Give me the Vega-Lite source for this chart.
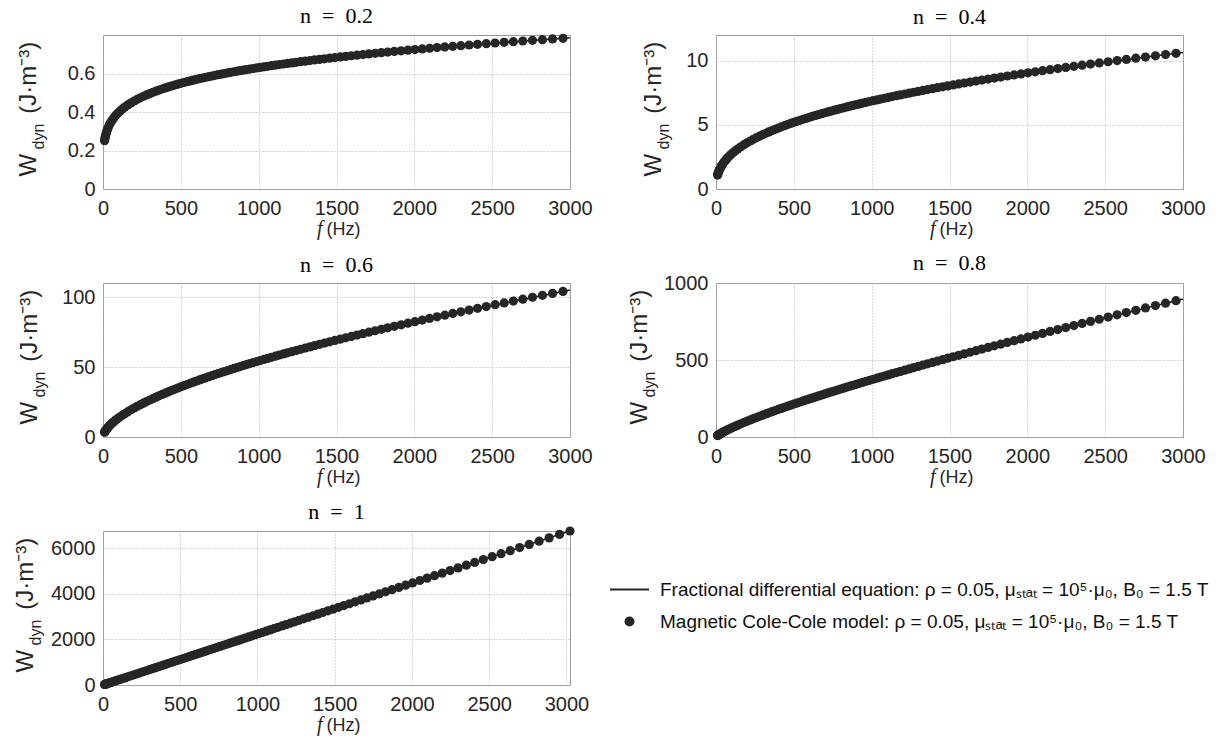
{
"$schema":"https://vega.github.io/schema/vega-lite/v6.json",
"background":"white",
"padding":{"left":12,"top":4,"right":5,"bottom":5},
"bounds":"flush",
"columns":2,
"spacing":{"row":94,"column":146},
"resolve":{"scale":{"shape":"independent"},"legend":{"shape":"independent"}},
"datasets":{
"c":[
{"n":0.2,"f":10,"W":0.251},{"n":0.2,"f":20,"W":0.2883},{"n":0.2,"f":39,"W":0.3295},{"n":0.2,"f":84,"W":0.3842},{"n":0.2,"f":160,"W":0.437},{"n":0.2,"f":300,"W":0.4955},{"n":0.2,"f":500,"W":0.5488},{"n":0.2,"f":800,"W":0.6029},{"n":0.2,"f":1213,"W":0.6552},{"n":0.2,"f":1708,"W":0.7017},{"n":0.2,"f":2299,"W":0.7446},{"n":0.2,"f":2955,"W":0.783},{"n":0.2,"f":3000,"W":0.7854},
{"n":0.4,"f":10,"W":1.086},{"n":0.4,"f":20,"W":1.4331},{"n":0.4,"f":39,"W":1.8718},{"n":0.4,"f":84,"W":2.5443},{"n":0.4,"f":160,"W":3.2923},{"n":0.4,"f":300,"W":4.2335},{"n":0.4,"f":500,"W":5.1932},{"n":0.4,"f":800,"W":6.2674},{"n":0.4,"f":1213,"W":7.4021},{"n":0.4,"f":1708,"W":8.4891},{"n":0.4,"f":2299,"W":9.5595},{"n":0.4,"f":2955,"W":10.57},{"n":0.4,"f":3000,"W":10.634},
{"n":0.6,"f":10,"W":3.425},{"n":0.6,"f":20,"W":5.192},{"n":0.6,"f":39,"W":7.75},{"n":0.6,"f":84,"W":12.282},{"n":0.6,"f":160,"W":18.079},{"n":0.6,"f":300,"W":26.362},{"n":0.6,"f":500,"W":35.816},{"n":0.6,"f":800,"W":47.485},{"n":0.6,"f":1213,"W":60.947},{"n":0.6,"f":1708,"W":74.854},{"n":0.6,"f":2299,"W":89.449},{"n":0.6,"f":2955,"W":104.0},{"n":0.6,"f":3000,"W":104.95},
{"n":0.8,"f":10,"W":9.343},{"n":0.8,"f":20,"W":16.27},{"n":0.8,"f":39,"W":27.75},{"n":0.8,"f":84,"W":51.28},{"n":0.8,"f":160,"W":85.86},{"n":0.8,"f":300,"W":141.97},{"n":0.8,"f":500,"W":213.63},{"n":0.8,"f":800,"W":311.15},{"n":0.8,"f":1213,"W":434.02},{"n":0.8,"f":1708,"W":570.85},{"n":0.8,"f":2299,"W":723.88},{"n":0.8,"f":2955,"W":885.0},{"n":0.8,"f":3000,"W":895.8},
{"n":1,"f":10,"W":22.35},{"n":1,"f":1000,"W":2235},{"n":1,"f":2000,"W":4470},{"n":1,"f":3023,"W":6756.4}
],
"m":[
{"n":0.2,"f":10,"W":0.251},{"n":0.2,"f":12,"W":0.2603},{"n":0.2,"f":14,"W":0.2685},{"n":0.2,"f":17,"W":0.2791},{"n":0.2,"f":20,"W":0.2883},{"n":0.2,"f":24,"W":0.299},{"n":0.2,"f":28,"W":0.3084},{"n":0.2,"f":33,"W":0.3187},{"n":0.2,"f":39,"W":0.3295},{"n":0.2,"f":46,"W":0.3406},{"n":0.2,"f":54,"W":0.3517},{"n":0.2,"f":63,"W":0.3627},{"n":0.2,"f":73,"W":0.3735},{"n":0.2,"f":84,"W":0.3842},{"n":0.2,"f":96,"W":0.3946},{"n":0.2,"f":110,"W":0.4054},{"n":0.2,"f":125,"W":0.4159},{"n":0.2,"f":140,"W":0.4255},{"n":0.2,"f":160,"W":0.437},{"n":0.2,"f":180,"W":0.4474},{"n":0.2,"f":200,"W":0.4569},{"n":0.2,"f":220,"W":0.4657},{"n":0.2,"f":240,"W":0.4739},{"n":0.2,"f":260,"W":0.4816},{"n":0.2,"f":280,"W":0.4887},{"n":0.2,"f":300,"W":0.4955},{"n":0.2,"f":320,"W":0.502},{"n":0.2,"f":340,"W":0.5081},{"n":0.2,"f":360,"W":0.5139},{"n":0.2,"f":380,"W":0.5195},{"n":0.2,"f":400,"W":0.5249},{"n":0.2,"f":420,"W":0.53},{"n":0.2,"f":440,"W":0.535},{"n":0.2,"f":460,"W":0.5398},{"n":0.2,"f":480,"W":0.5444},{"n":0.2,"f":500,"W":0.5488},{"n":0.2,"f":520,"W":0.5532},{"n":0.2,"f":540,"W":0.5573},{"n":0.2,"f":560,"W":0.5614},{"n":0.2,"f":580,"W":0.5654},{"n":0.2,"f":600,"W":0.5692},{"n":0.2,"f":620,"W":0.573},{"n":0.2,"f":640,"W":0.5766},{"n":0.2,"f":660,"W":0.5802},{"n":0.2,"f":680,"W":0.5836},{"n":0.2,"f":700,"W":0.587},{"n":0.2,"f":720,"W":0.5904},{"n":0.2,"f":740,"W":0.5936},{"n":0.2,"f":760,"W":0.5968},{"n":0.2,"f":780,"W":0.5999},{"n":0.2,"f":800,"W":0.6029},{"n":0.2,"f":820,"W":0.6059},
{"n":0.2,"f":841,"W":0.6091},{"n":0.2,"f":861,"W":0.6119},{"n":0.2,"f":881,"W":0.6147},{"n":0.2,"f":901,"W":0.6175},{"n":0.2,"f":922,"W":0.6203},{"n":0.2,"f":943,"W":0.6231},{"n":0.2,"f":965,"W":0.626},{"n":0.2,"f":987,"W":0.6289},{"n":0.2,"f":1010,"W":0.6317},{"n":0.2,"f":1034,"W":0.6346},{"n":0.2,"f":1057,"W":0.6375},{"n":0.2,"f":1082,"W":0.6405},{"n":0.2,"f":1107,"W":0.6434},{"n":0.2,"f":1132,"W":0.6463},{"n":0.2,"f":1159,"W":0.6493},{"n":0.2,"f":1185,"W":0.6523},{"n":0.2,"f":1213,"W":0.6552},{"n":0.2,"f":1241,"W":0.6582},{"n":0.2,"f":1269,"W":0.6613},{"n":0.2,"f":1299,"W":0.6643},{"n":0.2,"f":1329,"W":0.6673},{"n":0.2,"f":1359,"W":0.6704},{"n":0.2,"f":1391,"W":0.6734},{"n":0.2,"f":1423,"W":0.6765},{"n":0.2,"f":1456,"W":0.6796},{"n":0.2,"f":1489,"W":0.6827},{"n":0.2,"f":1524,"W":0.6859},{"n":0.2,"f":1559,"W":0.689},{"n":0.2,"f":1595,"W":0.6922},{"n":0.2,"f":1632,"W":0.6953},{"n":0.2,"f":1670,"W":0.6985},{"n":0.2,"f":1708,"W":0.7017},{"n":0.2,"f":1748,"W":0.7049},{"n":0.2,"f":1788,"W":0.7081},{"n":0.2,"f":1829,"W":0.7114},{"n":0.2,"f":1871,"W":0.7146},{"n":0.2,"f":1915,"W":0.7179},{"n":0.2,"f":1959,"W":0.7212},{"n":0.2,"f":2004,"W":0.7245},{"n":0.2,"f":2051,"W":0.7278},{"n":0.2,"f":2098,"W":0.7311},{"n":0.2,"f":2146,"W":0.7345},{"n":0.2,"f":2196,"W":0.7379},{"n":0.2,"f":2247,"W":0.7412},{"n":0.2,"f":2299,"W":0.7446},{"n":0.2,"f":2352,"W":0.748},{"n":0.2,"f":2406,"W":0.7515},{"n":0.2,"f":2462,"W":0.7549},{"n":0.2,"f":2519,"W":0.7584},{"n":0.2,"f":2577,"W":0.7618},{"n":0.2,"f":2636,"W":0.7653},{"n":0.2,"f":2697,"W":0.7688},{"n":0.2,"f":2759,"W":0.7723},{"n":0.2,"f":2823,"W":0.7759},{"n":0.2,"f":2888,"W":0.7794},{"n":0.2,"f":2955,"W":0.783},
{"n":0.4,"f":10,"W":1.086},{"n":0.4,"f":12,"W":1.1682},{"n":0.4,"f":14,"W":1.2425},{"n":0.4,"f":17,"W":1.3428},{"n":0.4,"f":20,"W":1.4331},{"n":0.4,"f":24,"W":1.5414},{"n":0.4,"f":28,"W":1.6395},{"n":0.4,"f":33,"W":1.7509},{"n":0.4,"f":39,"W":1.8718},{"n":0.4,"f":46,"W":1.9997},{"n":0.4,"f":54,"W":2.1322},{"n":0.4,"f":63,"W":2.2677},{"n":0.4,"f":73,"W":2.4054},{"n":0.4,"f":84,"W":2.5443},{"n":0.4,"f":96,"W":2.6839},{"n":0.4,"f":110,"W":2.834},{"n":0.4,"f":125,"W":2.9827},{"n":0.4,"f":140,"W":3.121},{"n":0.4,"f":160,"W":3.2923},{"n":0.4,"f":180,"W":3.4511},{"n":0.4,"f":200,"W":3.5997},{"n":0.4,"f":220,"W":3.7395},{"n":0.4,"f":240,"W":3.872},{"n":0.4,"f":260,"W":3.998},{"n":0.4,"f":280,"W":4.1182},{"n":0.4,"f":300,"W":4.2335},{"n":0.4,"f":320,"W":4.3442},{"n":0.4,"f":340,"W":4.4509},{"n":0.4,"f":360,"W":4.5538},{"n":0.4,"f":380,"W":4.6534},{"n":0.4,"f":400,"W":4.7498},{"n":0.4,"f":420,"W":4.8434},{"n":0.4,"f":440,"W":4.9344},{"n":0.4,"f":460,"W":5.0229},{"n":0.4,"f":480,"W":5.1091},{"n":0.4,"f":500,"W":5.1932},{"n":0.4,"f":520,"W":5.2753},{"n":0.4,"f":540,"W":5.3555},{"n":0.4,"f":560,"W":5.4341},{"n":0.4,"f":580,"W":5.5109},{"n":0.4,"f":600,"W":5.5861},{"n":0.4,"f":620,"W":5.66},{"n":0.4,"f":640,"W":5.7323},{"n":0.4,"f":660,"W":5.8032},{"n":0.4,"f":680,"W":5.8729},{"n":0.4,"f":700,"W":5.9413},{"n":0.4,"f":720,"W":6.0087},{"n":0.4,"f":740,"W":6.0749},{"n":0.4,"f":760,"W":6.1401},{"n":0.4,"f":780,"W":6.2043},{"n":0.4,"f":800,"W":6.2674},{"n":0.4,"f":820,"W":6.3296},
{"n":0.4,"f":841,"W":6.3956},{"n":0.4,"f":861,"W":6.4543},{"n":0.4,"f":881,"W":6.5135},{"n":0.4,"f":901,"W":6.5733},{"n":0.4,"f":922,"W":6.6336},{"n":0.4,"f":943,"W":6.6945},{"n":0.4,"f":965,"W":6.7559},{"n":0.4,"f":987,"W":6.8179},{"n":0.4,"f":1010,"W":6.8805},{"n":0.4,"f":1034,"W":6.9436},{"n":0.4,"f":1057,"W":7.0073},{"n":0.4,"f":1082,"W":7.0716},{"n":0.4,"f":1107,"W":7.1365},{"n":0.4,"f":1132,"W":7.202},{"n":0.4,"f":1159,"W":7.2681},{"n":0.4,"f":1185,"W":7.3348},{"n":0.4,"f":1213,"W":7.4021},{"n":0.4,"f":1241,"W":7.47},{"n":0.4,"f":1269,"W":7.5386},{"n":0.4,"f":1299,"W":7.6078},{"n":0.4,"f":1329,"W":7.6776},{"n":0.4,"f":1359,"W":7.748},{"n":0.4,"f":1391,"W":7.8191},{"n":0.4,"f":1423,"W":7.8909},{"n":0.4,"f":1456,"W":7.9633},{"n":0.4,"f":1489,"W":8.0364},{"n":0.4,"f":1524,"W":8.1101},{"n":0.4,"f":1559,"W":8.1845},{"n":0.4,"f":1595,"W":8.2596},{"n":0.4,"f":1632,"W":8.3354},{"n":0.4,"f":1670,"W":8.4119},{"n":0.4,"f":1708,"W":8.4891},{"n":0.4,"f":1748,"W":8.567},{"n":0.4,"f":1788,"W":8.6456},{"n":0.4,"f":1829,"W":8.725},{"n":0.4,"f":1871,"W":8.805},{"n":0.4,"f":1915,"W":8.8858},{"n":0.4,"f":1959,"W":8.9674},{"n":0.4,"f":2004,"W":9.0497},{"n":0.4,"f":2051,"W":9.1327},{"n":0.4,"f":2098,"W":9.2165},{"n":0.4,"f":2146,"W":9.3011},{"n":0.4,"f":2196,"W":9.3864},{"n":0.4,"f":2247,"W":9.4726},{"n":0.4,"f":2299,"W":9.5595},{"n":0.4,"f":2352,"W":9.6473},{"n":0.4,"f":2406,"W":9.7358},{"n":0.4,"f":2462,"W":9.8251},{"n":0.4,"f":2519,"W":9.9153},{"n":0.4,"f":2577,"W":10.0063},{"n":0.4,"f":2636,"W":10.0981},{"n":0.4,"f":2697,"W":10.1908},{"n":0.4,"f":2759,"W":10.2843},{"n":0.4,"f":2823,"W":10.3787},{"n":0.4,"f":2888,"W":10.4739},{"n":0.4,"f":2955,"W":10.57},
{"n":0.6,"f":10,"W":3.425},{"n":0.6,"f":12,"W":3.821},{"n":0.6,"f":14,"W":4.192},{"n":0.6,"f":17,"W":4.709},{"n":0.6,"f":20,"W":5.192},{"n":0.6,"f":24,"W":5.792},{"n":0.6,"f":28,"W":6.353},{"n":0.6,"f":33,"W":7.012},{"n":0.6,"f":39,"W":7.75},{"n":0.6,"f":46,"W":8.558},{"n":0.6,"f":54,"W":9.422},{"n":0.6,"f":63,"W":10.335},{"n":0.6,"f":73,"W":11.29},{"n":0.6,"f":84,"W":12.282},{"n":0.6,"f":96,"W":13.307},{"n":0.6,"f":110,"W":14.438},{"n":0.6,"f":125,"W":15.59},{"n":0.6,"f":140,"W":16.687},{"n":0.6,"f":160,"W":18.079},{"n":0.6,"f":180,"W":19.402},{"n":0.6,"f":200,"W":20.669},{"n":0.6,"f":220,"W":21.885},{"n":0.6,"f":240,"W":23.058},{"n":0.6,"f":260,"W":24.192},{"n":0.6,"f":280,"W":25.292},{"n":0.6,"f":300,"W":26.362},{"n":0.6,"f":320,"W":27.402},{"n":0.6,"f":340,"W":28.418},{"n":0.6,"f":360,"W":29.409},{"n":0.6,"f":380,"W":30.379},{"n":0.6,"f":400,"W":31.328},{"n":0.6,"f":420,"W":32.259},{"n":0.6,"f":440,"W":33.172},{"n":0.6,"f":460,"W":34.068},{"n":0.6,"f":480,"W":34.949},{"n":0.6,"f":500,"W":35.816},{"n":0.6,"f":520,"W":36.669},{"n":0.6,"f":540,"W":37.508},{"n":0.6,"f":560,"W":38.336},{"n":0.6,"f":580,"W":39.152},{"n":0.6,"f":600,"W":39.956},{"n":0.6,"f":620,"W":40.751},{"n":0.6,"f":640,"W":41.535},{"n":0.6,"f":660,"W":42.308},{"n":0.6,"f":680,"W":43.073},{"n":0.6,"f":700,"W":43.828},{"n":0.6,"f":720,"W":44.575},{"n":0.6,"f":740,"W":45.314},{"n":0.6,"f":760,"W":46.046},{"n":0.6,"f":780,"W":46.769},{"n":0.6,"f":800,"W":47.485},{"n":0.6,"f":820,"W":48.193},
{"n":0.6,"f":841,"W":48.949},{"n":0.6,"f":861,"W":49.624},{"n":0.6,"f":881,"W":50.309},{"n":0.6,"f":901,"W":51.003},{"n":0.6,"f":922,"W":51.707},{"n":0.6,"f":943,"W":52.42},{"n":0.6,"f":965,"W":53.143},{"n":0.6,"f":987,"W":53.876},{"n":0.6,"f":1010,"W":54.62},{"n":0.6,"f":1034,"W":55.373},{"n":0.6,"f":1057,"W":56.137},{"n":0.6,"f":1082,"W":56.912},{"n":0.6,"f":1107,"W":57.697},{"n":0.6,"f":1132,"W":58.493},{"n":0.6,"f":1159,"W":59.3},{"n":0.6,"f":1185,"W":60.118},{"n":0.6,"f":1213,"W":60.947},{"n":0.6,"f":1241,"W":61.788},{"n":0.6,"f":1269,"W":62.64},{"n":0.6,"f":1299,"W":63.505},{"n":0.6,"f":1329,"W":64.381},{"n":0.6,"f":1359,"W":65.269},{"n":0.6,"f":1391,"W":66.17},{"n":0.6,"f":1423,"W":67.083},{"n":0.6,"f":1456,"W":68.008},{"n":0.6,"f":1489,"W":68.946},{"n":0.6,"f":1524,"W":69.897},{"n":0.6,"f":1559,"W":70.862},{"n":0.6,"f":1595,"W":71.839},{"n":0.6,"f":1632,"W":72.83},{"n":0.6,"f":1670,"W":73.835},{"n":0.6,"f":1708,"W":74.854},{"n":0.6,"f":1748,"W":75.887},{"n":0.6,"f":1788,"W":76.934},{"n":0.6,"f":1829,"W":77.995},{"n":0.6,"f":1871,"W":79.071},{"n":0.6,"f":1915,"W":80.162},{"n":0.6,"f":1959,"W":81.268},{"n":0.6,"f":2004,"W":82.389},{"n":0.6,"f":2051,"W":83.526},{"n":0.6,"f":2098,"W":84.678},{"n":0.6,"f":2146,"W":85.847},{"n":0.6,"f":2196,"W":87.031},{"n":0.6,"f":2247,"W":88.232},{"n":0.6,"f":2299,"W":89.449},{"n":0.6,"f":2352,"W":90.683},{"n":0.6,"f":2406,"W":91.934},{"n":0.6,"f":2462,"W":93.203},{"n":0.6,"f":2519,"W":94.488},{"n":0.6,"f":2577,"W":95.792},{"n":0.6,"f":2636,"W":97.114},{"n":0.6,"f":2697,"W":98.453},{"n":0.6,"f":2759,"W":99.812},{"n":0.6,"f":2823,"W":101.189},{"n":0.6,"f":2888,"W":102.585},{"n":0.6,"f":2955,"W":104.0},
{"n":0.8,"f":10,"W":9.343},{"n":0.8,"f":12,"W":10.81},{"n":0.8,"f":14,"W":12.23},{"n":0.8,"f":17,"W":14.28},{"n":0.8,"f":20,"W":16.27},{"n":0.8,"f":24,"W":18.82},{"n":0.8,"f":28,"W":21.29},{"n":0.8,"f":33,"W":24.28},{"n":0.8,"f":39,"W":27.75},{"n":0.8,"f":46,"W":31.67},{"n":0.8,"f":54,"W":36.01},{"n":0.8,"f":63,"W":40.74},{"n":0.8,"f":73,"W":45.83},{"n":0.8,"f":84,"W":51.28},{"n":0.8,"f":96,"W":57.06},{"n":0.8,"f":110,"W":63.62},{"n":0.8,"f":125,"W":70.47},{"n":0.8,"f":140,"W":77.16},{"n":0.8,"f":160,"W":85.86},{"n":0.8,"f":180,"W":94.34},{"n":0.8,"f":200,"W":102.64},{"n":0.8,"f":220,"W":110.77},{"n":0.8,"f":240,"W":118.76},{"n":0.8,"f":260,"W":126.61},{"n":0.8,"f":280,"W":134.34},{"n":0.8,"f":300,"W":141.97},{"n":0.8,"f":320,"W":149.49},{"n":0.8,"f":340,"W":156.92},{"n":0.8,"f":360,"W":164.26},{"n":0.8,"f":380,"W":171.53},{"n":0.8,"f":400,"W":178.71},{"n":0.8,"f":420,"W":185.82},{"n":0.8,"f":440,"W":192.87},{"n":0.8,"f":460,"W":199.85},{"n":0.8,"f":480,"W":206.77},{"n":0.8,"f":500,"W":213.63},{"n":0.8,"f":520,"W":220.44},{"n":0.8,"f":540,"W":227.2},{"n":0.8,"f":560,"W":233.91},{"n":0.8,"f":580,"W":240.57},{"n":0.8,"f":600,"W":247.18},{"n":0.8,"f":620,"W":253.76},{"n":0.8,"f":640,"W":260.28},{"n":0.8,"f":660,"W":266.76},{"n":0.8,"f":680,"W":273.21},{"n":0.8,"f":700,"W":279.62},{"n":0.8,"f":720,"W":286.0},{"n":0.8,"f":740,"W":292.33},{"n":0.8,"f":760,"W":298.64},{"n":0.8,"f":780,"W":304.91},{"n":0.8,"f":800,"W":311.15},{"n":0.8,"f":820,"W":317.36},
{"n":0.8,"f":841,"W":324.01},{"n":0.8,"f":861,"W":329.98},{"n":0.8,"f":881,"W":336.07},{"n":0.8,"f":901,"W":342.26},{"n":0.8,"f":922,"W":348.57},{"n":0.8,"f":943,"W":355.0},{"n":0.8,"f":965,"W":361.55},{"n":0.8,"f":987,"W":368.21},{"n":0.8,"f":1010,"W":375.0},{"n":0.8,"f":1034,"W":381.91},{"n":0.8,"f":1057,"W":388.95},{"n":0.8,"f":1082,"W":396.13},{"n":0.8,"f":1107,"W":403.43},{"n":0.8,"f":1132,"W":410.87},{"n":0.8,"f":1159,"W":418.44},{"n":0.8,"f":1185,"W":426.16},{"n":0.8,"f":1213,"W":434.02},{"n":0.8,"f":1241,"W":442.02},{"n":0.8,"f":1269,"W":450.17},{"n":0.8,"f":1299,"W":458.47},{"n":0.8,"f":1329,"W":466.92},{"n":0.8,"f":1359,"W":475.53},{"n":0.8,"f":1391,"W":484.3},{"n":0.8,"f":1423,"W":493.22},{"n":0.8,"f":1456,"W":502.32},{"n":0.8,"f":1489,"W":511.58},{"n":0.8,"f":1524,"W":521.01},{"n":0.8,"f":1559,"W":530.62},{"n":0.8,"f":1595,"W":540.4},{"n":0.8,"f":1632,"W":550.36},{"n":0.8,"f":1670,"W":560.51},{"n":0.8,"f":1708,"W":570.85},{"n":0.8,"f":1748,"W":581.37},{"n":0.8,"f":1788,"W":592.09},{"n":0.8,"f":1829,"W":603.01},{"n":0.8,"f":1871,"W":614.12},{"n":0.8,"f":1915,"W":625.45},{"n":0.8,"f":1959,"W":636.98},{"n":0.8,"f":2004,"W":648.72},{"n":0.8,"f":2051,"W":660.68},{"n":0.8,"f":2098,"W":672.86},{"n":0.8,"f":2146,"W":685.27},{"n":0.8,"f":2196,"W":697.91},{"n":0.8,"f":2247,"W":710.77},{"n":0.8,"f":2299,"W":723.88},{"n":0.8,"f":2352,"W":737.23},{"n":0.8,"f":2406,"W":750.82},{"n":0.8,"f":2462,"W":764.66},{"n":0.8,"f":2519,"W":778.76},{"n":0.8,"f":2577,"W":793.12},{"n":0.8,"f":2636,"W":807.74},{"n":0.8,"f":2697,"W":822.63},{"n":0.8,"f":2759,"W":837.8},{"n":0.8,"f":2823,"W":853.25},{"n":0.8,"f":2888,"W":868.98},{"n":0.8,"f":2955,"W":885.0},
{"n":1,"f":10,"W":22.35},{"n":1,"f":12,"W":26.82},{"n":1,"f":14,"W":31.29},{"n":1,"f":17,"W":38.0},{"n":1,"f":20,"W":44.7},{"n":1,"f":24,"W":53.6},{"n":1,"f":28,"W":62.6},{"n":1,"f":33,"W":73.8},{"n":1,"f":39,"W":87.2},{"n":1,"f":46,"W":102.8},{"n":1,"f":54,"W":120.7},{"n":1,"f":63,"W":140.8},{"n":1,"f":73,"W":163.2},{"n":1,"f":84,"W":187.7},{"n":1,"f":96,"W":214.6},{"n":1,"f":110,"W":245.9},{"n":1,"f":125,"W":279.4},{"n":1,"f":140,"W":312.9},{"n":1,"f":160,"W":357.6},{"n":1,"f":180,"W":402.3},{"n":1,"f":200,"W":447.0},{"n":1,"f":220,"W":491.7},{"n":1,"f":240,"W":536.4},{"n":1,"f":260,"W":581.1},{"n":1,"f":280,"W":625.8},{"n":1,"f":300,"W":670.5},{"n":1,"f":320,"W":715.2},{"n":1,"f":340,"W":759.9},{"n":1,"f":360,"W":804.6},{"n":1,"f":380,"W":849.3},{"n":1,"f":400,"W":894.0},{"n":1,"f":420,"W":938.7},{"n":1,"f":440,"W":983.4},{"n":1,"f":460,"W":1028.1},{"n":1,"f":480,"W":1072.8},{"n":1,"f":500,"W":1117.5},{"n":1,"f":520,"W":1162.2},{"n":1,"f":540,"W":1206.9},{"n":1,"f":560,"W":1251.6},{"n":1,"f":580,"W":1296.3},{"n":1,"f":600,"W":1341.0},{"n":1,"f":620,"W":1385.7},{"n":1,"f":640,"W":1430.4},{"n":1,"f":660,"W":1475.1},{"n":1,"f":680,"W":1519.8},{"n":1,"f":700,"W":1564.5},{"n":1,"f":720,"W":1609.2},{"n":1,"f":740,"W":1653.9},{"n":1,"f":760,"W":1698.6},{"n":1,"f":780,"W":1743.3},{"n":1,"f":800,"W":1788.0},{"n":1,"f":820,"W":1832.7},
{"n":1,"f":841,"W":1879.6},{"n":1,"f":861,"W":1924.3},{"n":1,"f":881,"W":1969.0},{"n":1,"f":901,"W":2013.7},{"n":1,"f":922,"W":2060.7},{"n":1,"f":943,"W":2107.6},{"n":1,"f":965,"W":2156.8},{"n":1,"f":987,"W":2205.9},{"n":1,"f":1010,"W":2257.4},{"n":1,"f":1034,"W":2311.0},{"n":1,"f":1057,"W":2362.4},{"n":1,"f":1082,"W":2418.3},{"n":1,"f":1107,"W":2474.1},{"n":1,"f":1132,"W":2530.0},{"n":1,"f":1159,"W":2590.4},{"n":1,"f":1185,"W":2648.5},{"n":1,"f":1213,"W":2711.1},{"n":1,"f":1241,"W":2773.6},{"n":1,"f":1269,"W":2836.2},{"n":1,"f":1299,"W":2903.3},{"n":1,"f":1329,"W":2970.3},{"n":1,"f":1359,"W":3037.4},{"n":1,"f":1391,"W":3108.9},{"n":1,"f":1423,"W":3180.4},{"n":1,"f":1456,"W":3254.2},{"n":1,"f":1489,"W":3327.9},{"n":1,"f":1524,"W":3406.1},{"n":1,"f":1559,"W":3484.4},{"n":1,"f":1595,"W":3564.8},{"n":1,"f":1632,"W":3647.5},{"n":1,"f":1670,"W":3732.5},{"n":1,"f":1708,"W":3817.4},{"n":1,"f":1748,"W":3906.8},{"n":1,"f":1788,"W":3996.2},{"n":1,"f":1829,"W":4087.8},{"n":1,"f":1871,"W":4181.7},{"n":1,"f":1915,"W":4280.0},{"n":1,"f":1959,"W":4378.4},{"n":1,"f":2004,"W":4478.9},{"n":1,"f":2051,"W":4584.0},{"n":1,"f":2098,"W":4689.0},{"n":1,"f":2146,"W":4796.3},{"n":1,"f":2196,"W":4908.1},{"n":1,"f":2247,"W":5022.0},{"n":1,"f":2299,"W":5138.3},{"n":1,"f":2352,"W":5256.7},{"n":1,"f":2406,"W":5377.4},{"n":1,"f":2462,"W":5502.6},{"n":1,"f":2519,"W":5630.0},{"n":1,"f":2577,"W":5759.6},{"n":1,"f":2636,"W":5891.5},{"n":1,"f":2697,"W":6027.8},{"n":1,"f":2759,"W":6166.4},{"n":1,"f":2823,"W":6309.4},{"n":1,"f":2888,"W":6454.7},{"n":1,"f":2955,"W":6604.4},{"n":1,"f":3023,"W":6756.4}
]
},
"concat":[
{"width":467,"height":154,"title":{"text":"n\u2002=\u20020.2","offset":6},
 "layer":[
  {"data":{"name":"c"},"transform":[{"filter":"datum.n == 0.2"}],"mark":{"type":"line","color":"#1a1a1a","strokeWidth":1.5},
   "encoding":{"x":{"field":"f","type":"quantitative","scale":{"domain":[0,3000],"nice":false,"zero":false},"axis":{"values":[0,500,1000,1500,2000,2500,3000],"labelExpr":"'' + datum.value","title":"(Hz)","titleFontSize":18,"titleAlign":"left","titleX":223,"titleY":45,"titleBaseline":"alphabetic"}},
   "y":{"field":"W","type":"quantitative","scale":{"domain":[0,0.8],"nice":false,"zero":false},"axis":{"values":[0,0.2,0.4,0.6],"labelExpr":"'' + datum.value","title":"W\u00a0\u00a0\u00a0\u00a0\u00a0\u00a0(J·m⁻³)","titleFontSize":24,"titleAlign":"left","titleAngle":-90,"titleX":-68,"titleY":141,"titleBaseline":"alphabetic"}}}},
  {"data":{"name":"m"},"transform":[{"filter":"datum.n == 0.2"}],"mark":{"type":"point","filled":true,"size":85,"color":"#262626","opacity":1},
   "encoding":{"x":{"field":"f","type":"quantitative","axis":{"orient":"bottom","labels":false,"grid":false,"title":"f","titleFont":"Liberation Serif","titleFontStyle":"italic","titleFontSize":20,"titleAlign":"right","titleX":219,"titleY":45,"titleBaseline":"alphabetic"}},
   "y":{"field":"W","type":"quantitative","axis":{"orient":"left","labels":false,"grid":false,"title":"dyn","titleFontSize":16,"titleAlign":"left","titleAngle":-90,"titleX":-60,"titleY":114,"titleBaseline":"alphabetic"}}}}
 ],
 "resolve":{"axis":{"x":"independent","y":"independent"}}},
{"width":467,"height":154,"title":{"text":"n\u2002=\u20020.4","offset":6},
 "layer":[
  {"data":{"name":"c"},"transform":[{"filter":"datum.n == 0.4"}],"mark":{"type":"line","color":"#1a1a1a","strokeWidth":1.5},
   "encoding":{"x":{"field":"f","type":"quantitative","scale":{"domain":[0,3000],"nice":false,"zero":false},"axis":{"values":[0,500,1000,1500,2000,2500,3000],"labelExpr":"'' + datum.value","title":"(Hz)","titleFontSize":18,"titleAlign":"left","titleX":223,"titleY":45,"titleBaseline":"alphabetic"}},
   "y":{"field":"W","type":"quantitative","scale":{"domain":[0,12],"nice":false,"zero":false},"axis":{"values":[0,5,10],"labelExpr":"'' + datum.value","title":"W\u00a0\u00a0\u00a0\u00a0\u00a0\u00a0(J·m⁻³)","titleFontSize":24,"titleAlign":"left","titleAngle":-90,"titleX":-56,"titleY":141,"titleBaseline":"alphabetic"}}}},
  {"data":{"name":"m"},"transform":[{"filter":"datum.n == 0.4"}],"mark":{"type":"point","filled":true,"size":85,"color":"#262626","opacity":1},
   "encoding":{"x":{"field":"f","type":"quantitative","axis":{"orient":"bottom","labels":false,"grid":false,"title":"f","titleFont":"Liberation Serif","titleFontStyle":"italic","titleFontSize":20,"titleAlign":"right","titleX":219,"titleY":45,"titleBaseline":"alphabetic"}},
   "y":{"field":"W","type":"quantitative","axis":{"orient":"left","labels":false,"grid":false,"title":"dyn","titleFontSize":16,"titleAlign":"left","titleAngle":-90,"titleX":-48,"titleY":114,"titleBaseline":"alphabetic"}}}}
 ],
 "resolve":{"axis":{"x":"independent","y":"independent"}}},
{"width":467,"height":154,"title":{"text":"n\u2002=\u20020.6","offset":6},
 "layer":[
  {"data":{"name":"c"},"transform":[{"filter":"datum.n == 0.6"}],"mark":{"type":"line","color":"#1a1a1a","strokeWidth":1.5},
   "encoding":{"x":{"field":"f","type":"quantitative","scale":{"domain":[0,3000],"nice":false,"zero":false},"axis":{"values":[0,500,1000,1500,2000,2500,3000],"labelExpr":"'' + datum.value","title":"(Hz)","titleFontSize":18,"titleAlign":"left","titleX":223,"titleY":45,"titleBaseline":"alphabetic"}},
   "y":{"field":"W","type":"quantitative","scale":{"domain":[0,110],"nice":false,"zero":false},"axis":{"values":[0,50,100],"labelExpr":"'' + datum.value","title":"W\u00a0\u00a0\u00a0\u00a0\u00a0\u00a0(J·m⁻³)","titleFontSize":24,"titleAlign":"left","titleAngle":-90,"titleX":-67,"titleY":141,"titleBaseline":"alphabetic"}}}},
  {"data":{"name":"m"},"transform":[{"filter":"datum.n == 0.6"}],"mark":{"type":"point","filled":true,"size":85,"color":"#262626","opacity":1},
   "encoding":{"x":{"field":"f","type":"quantitative","axis":{"orient":"bottom","labels":false,"grid":false,"title":"f","titleFont":"Liberation Serif","titleFontStyle":"italic","titleFontSize":20,"titleAlign":"right","titleX":219,"titleY":45,"titleBaseline":"alphabetic"}},
   "y":{"field":"W","type":"quantitative","axis":{"orient":"left","labels":false,"grid":false,"title":"dyn","titleFontSize":16,"titleAlign":"left","titleAngle":-90,"titleX":-59,"titleY":114,"titleBaseline":"alphabetic"}}}}
 ],
 "resolve":{"axis":{"x":"independent","y":"independent"}}},
{"width":467,"height":154,"title":{"text":"n\u2002=\u20020.8","offset":-2},
 "layer":[
  {"data":{"name":"c"},"transform":[{"filter":"datum.n == 0.8"}],"mark":{"type":"line","color":"#1a1a1a","strokeWidth":1.5},
   "encoding":{"x":{"field":"f","type":"quantitative","scale":{"domain":[0,3000],"nice":false,"zero":false},"axis":{"values":[0,500,1000,1500,2000,2500,3000],"labelExpr":"'' + datum.value","title":"(Hz)","titleFontSize":18,"titleAlign":"left","titleX":223,"titleY":45,"titleBaseline":"alphabetic"}},
   "y":{"field":"W","type":"quantitative","scale":{"domain":[0,1000],"nice":false,"zero":false},"axis":{"values":[0,500,1000],"labelExpr":"'' + datum.value","title":"W\u00a0\u00a0\u00a0\u00a0\u00a0\u00a0(J·m⁻³)","titleFontSize":24,"titleAlign":"left","titleAngle":-90,"titleX":-70,"titleY":141,"titleBaseline":"alphabetic"}}}},
  {"data":{"name":"m"},"transform":[{"filter":"datum.n == 0.8"}],"mark":{"type":"point","filled":true,"size":85,"color":"#262626","opacity":1},
   "encoding":{"x":{"field":"f","type":"quantitative","axis":{"orient":"bottom","labels":false,"grid":false,"title":"f","titleFont":"Liberation Serif","titleFontStyle":"italic","titleFontSize":20,"titleAlign":"right","titleX":219,"titleY":45,"titleBaseline":"alphabetic"}},
   "y":{"field":"W","type":"quantitative","axis":{"orient":"left","labels":false,"grid":false,"title":"dyn","titleFontSize":16,"titleAlign":"left","titleAngle":-90,"titleX":-62,"titleY":114,"titleBaseline":"alphabetic"}}}}
 ],
 "resolve":{"axis":{"x":"independent","y":"independent"}}},
{"width":467,"height":154,"title":{"text":"n\u2002=\u20021","offset":2},
 "layer":[
  {"data":{"name":"c"},"transform":[{"filter":"datum.n == 1"}],"mark":{"type":"line","color":"#1a1a1a","strokeWidth":1.5},
   "encoding":{"x":{"field":"f","type":"quantitative","scale":{"domain":[0,3023],"nice":false,"zero":false},"axis":{"values":[0,500,1000,1500,2000,2500,3000],"labelExpr":"'' + datum.value","title":"(Hz)","titleFontSize":18,"titleAlign":"left","titleX":223,"titleY":45,"titleBaseline":"alphabetic"}},
   "y":{"field":"W","type":"quantitative","scale":{"domain":[0,6756],"nice":false,"zero":false},"axis":{"values":[0,2000,4000,6000],"labelExpr":"'' + datum.value","title":"W\u00a0\u00a0\u00a0\u00a0\u00a0\u00a0(J·m⁻³)","titleFontSize":24,"titleAlign":"left","titleAngle":-90,"titleX":-71,"titleY":141,"titleBaseline":"alphabetic"}}}},
  {"data":{"name":"m"},"transform":[{"filter":"datum.n == 1"}],"mark":{"type":"point","filled":true,"size":85,"color":"#262626","opacity":1},
   "encoding":{"x":{"field":"f","type":"quantitative","axis":{"orient":"bottom","labels":false,"grid":false,"title":"f","titleFont":"Liberation Serif","titleFontStyle":"italic","titleFontSize":20,"titleAlign":"right","titleX":219,"titleY":45,"titleBaseline":"alphabetic"}},
   "y":{"field":"W","type":"quantitative","axis":{"orient":"left","labels":false,"grid":false,"title":"dyn","titleFontSize":16,"titleAlign":"left","titleAngle":-90,"titleX":-63,"titleY":114,"titleBaseline":"alphabetic"}},
   "shape":{"datum":"Magnetic Cole-Cole model: ρ = 0.05, μₛₜₐₜ = 10⁵·μ₀, B₀ = 1.5 T","type":"nominal",
     "scale":{"domain":["Fractional differential equation: ρ = 0.05, μₛₜₐₜ = 10⁵·μ₀, B₀ = 1.5 T","Magnetic Cole-Cole model: ρ = 0.05, μₛₜₐₜ = 10⁵·μ₀, B₀ = 1.5 T"],"range":["M-3.9,-0.2H3.9V0.2H-3.9Z","circle"]},
     "legend":{"title":null,"orient":"none","legendX":517,"legendY":49,"padding":0,"labelFont":"Liberation Sans","labelFontSize":19,"labelColor":"#111","labelLimit":900,"rowPadding":12,"labelOffset":21,"symbolFillColor":"#1a1a1a","symbolStrokeColor":"#1a1a1a","symbolStrokeWidth":0,"symbolOpacity":1}}}}
 ],
 "resolve":{"axis":{"x":"independent","y":"independent"}}}
],
"config":{
 "font":"Liberation Sans",
 "view":{"stroke":"#9a9a9a","strokeWidth":1},
 "axis":{"labelFont":"Liberation Sans","labelFontSize":20,"labelColor":"#262626","ticks":false,"domain":false,"gridColor":"#b4b4b4","gridDash":[1,2],"gridWidth":1,"labelFlush":false,"titleFont":"Liberation Sans","titleFontWeight":"normal","titleColor":"#262626"},
 "axisX":{"labelPadding":9},
 "axisY":{"labelPadding":8},
 "title":{"font":"Liberation Serif","fontSize":22,"fontWeight":"normal","color":"#000","baseline":"alphabetic","anchor":"middle"}
}
}
